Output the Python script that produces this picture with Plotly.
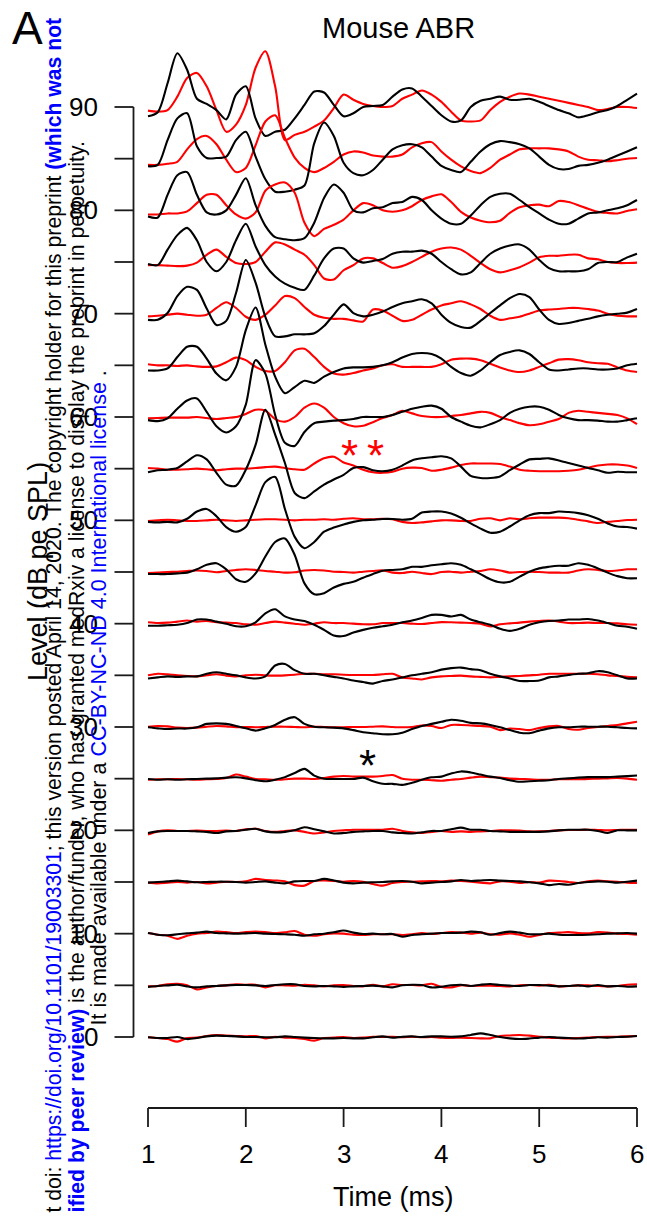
import plotly.graph_objects as go

W, H = 647, 1218

# ---------------- data ----------------
time_ms = [1.0, 1.1, 1.2, 1.3, 1.4, 1.5, 1.6, 1.7, 1.8, 1.9,
           2.0, 2.1, 2.2, 2.3, 2.4, 2.5, 2.6, 2.7, 2.8, 2.9,
           3.0, 3.1, 3.2, 3.3, 3.4, 3.5, 3.6, 3.7, 3.8, 3.9,
           4.0, 4.1, 4.2, 4.3, 4.4, 4.5, 4.6, 4.7, 4.8, 4.9,
           5.0, 5.1, 5.2, 5.3, 5.4, 5.5, 5.6, 5.7, 5.8, 5.9, 6.0]

levels = [90, 85, 80, 75, 70, 65, 60, 55, 50, 45, 40, 35, 30, 25, 20, 15, 10, 5, 0]
ytick_vals = [0, 5, 10, 15, 20, 25, 30, 35, 40, 45, 50, 55, 60, 65, 70, 75, 80, 85, 90]
ytick_labels = {0: "0", 10: "10", 20: "20", 30: "30", 40: "40", 50: "50", 60: "60", 70: "70", 80: "80", 90: "90"}
xtick_vals = [1, 2, 3, 4, 5, 6]

# waveform deflections (plot units, stacked on each level)
b90 = [-0.9, -0.5, 2.3, 5.2, 3.6, 0.8, 0.3, -0.3, -1.2, 1.2,
       2.0, -1.1, -2.8, -2.4, -2.2, -1.1, 0.2, 1.5, 1.4, 0.2,
       -0.9, -0.6, 0.0, 0.1, 0.2, 1.0, 1.7, 1.8, 1.0, 0.1,
       -0.8, -1.4, -1.3, 0.0, 0.6, 0.8, 1.0, 0.7, 0.7, 0.8,
       0.5, 0.1, -0.3, -0.6, -1.0, -0.8, -0.5, -0.3, 0.1, 0.7, 1.3]
r90 = [-0.35, -0.45, -0.3, 1.0, 2.8, 3.3, 2.0, -0.3, -2.4, -1.7,
       0.2, 3.8, 5.4, 2.0, -3.2, -2.7, -2.4, -1.9, -1.3, -0.1,
       1.2, 0.7, 0.3, 0.1, 0.0, 0.1, 0.8, 1.2, 1.6, 1.2,
       0.5, -0.45, -1.3, -1.4, -1.3, -0.3, 0.5, 1.0, 1.3, 1.2,
       1.0, 0.8, 0.6, 0.4, 0.2, 0.0, -0.3, -0.2, 0.0, 0.0, -0.1]
b85 = [-0.74, -0.6, 1.8, 3.9, 4.4, 1.2, 0.06, 0.06, 0.2, 1.8,
       2.6, 0.2, -2.0, -3.2, -3.2, -3.0, -2.6, 1.5, 3.5, 2.2,
       -0.4, -1.4, -1.6, -1.1, -0.1, 0.9, 1.3, 1.4, 1.1, 0.2,
       -0.7, -1.1, -1.3, -0.3, 0.7, 1.4, 1.7, 1.6, 1.4, 1.0,
       0.2, -0.6, -1.0, -1.0, -0.7, -0.6, -0.4, -0.1, 0.3, 0.7, 1.1]
r85 = [-0.6, -0.6, -0.5, -0.3, 0.9, 1.9, 2.2, 1.4, -0.1, -1.3,
       -0.9, 1.3, 3.6, 4.2, 2.0, 0.1, -0.9, -1.3, -0.9, -0.3,
       0.4, 0.7, 0.6, 0.3, 0.2, 0.2, 0.4, 1.1, 1.5, 1.6,
       0.7, -0.1, -0.75, -1.2, -1.4, -0.9, -0.1, 0.4, 0.9, 1.0,
       1.0, 1.0, 0.9, 0.7, 0.2, -0.1, -0.15, -0.25, -0.15, 0.0, 0.06]
b80 = [-0.6, -0.7, 1.5, 3.4, 3.7, 1.5, -0.2, -0.4, 0.0, 1.5,
       3.1, 0.5, -1.5, -2.6, -2.8, -2.9, -2.7, -1.2, 1.2, 2.5,
       1.7, 0.0, -0.2, 0.2, 0.3, 0.7, 0.8, 1.3, 1.0, 0.0,
       -0.8, -1.3, -1.3, -0.5, 0.5, 1.3, 1.6, 1.6, 1.0, 0.3,
       -0.3, -0.9, -1.3, -1.3, -0.8, -0.3, -0.2, 0.0, 0.2, 0.5, 1.0]
r80 = [-0.4, -0.4, -0.3, -0.3, -0.1, 0.7, 1.5, 1.5, 0.5, -0.4,
       -0.8, -0.2, 1.9, 2.5, 2.7, 1.7, -1.2, -2.5, -1.8, -1.4,
       -0.9, 0.0, 0.7, 0.5, 0.0, -0.13, 0.0, 0.4, 1.0, 1.35,
       1.55, 0.8, -0.15, -0.7, -1.0, -1.15, -1.0, -0.25, 0.3, 0.5,
       0.55, 0.4, 0.9, 0.8, 0.5, 0.15, -0.15, -0.25, -0.3, -0.06, 0.1]
b75 = [-0.2, -0.3, 1.2, 2.6, 3.3, 2.1, 0.0, -0.9, 0.0, 2.1,
       3.7, 1.5, -0.3, -1.4, -2.1, -2.5, -2.7, -1.3, 0.35, 1.3,
       1.3, 0.35, -0.06, 0.1, 0.3, 0.8, 1.0, 1.0, 1.1, 0.8,
       0.0, -0.7, -1.2, -1.0, -0.1, 0.8, 1.3, 1.6, 1.7, 1.2,
       0.2, -0.6, -0.9, -0.9, -0.9, -0.7, -0.1, 0.0, 0.0, 0.45, 0.8]
r75 = [-0.3, -0.3, -0.35, -0.4, -0.35, -0.06, 0.7, 1.2, 0.5, -0.1,
       -0.2, 0.0, 1.0, 1.9, 1.7, 1.2, 0.7, -0.3, -1.6, -1.7,
       -0.8, -0.3, 0.35, 0.35, -0.1, -0.55, -0.4, 0.0, 0.5, 1.0,
       1.3, 1.4, 1.2, 0.6, -0.1, -0.7, -1.0, -0.8, -0.5, -0.06,
       0.45, 0.6, 0.6, 0.7, 0.7, 0.35, 0.26, 0.0, -0.1, -0.1, -0.06]
b70 = [-0.6, -0.6, 0.06, 1.7, 2.6, 2.3, 0.5, -1.1, -0.7, 2.0,
       5.2, 3.0, -0.3, -2.2, -2.2, -2.0, -2.0, -1.9, -1.2, -0.1,
       0.9, 0.06, -0.26, -0.1, 0.2, 0.65, 1.0, 1.2, 1.4, 1.0,
       -0.1, -0.9, -1.3, -1.35, -0.7, 0.06, 0.8, 1.5, 1.9, 1.6,
       0.4, -0.6, -1.0, -0.9, -0.7, -0.5, -0.26, -0.1, 0.0, 0.1, 0.45]
r70 = [-0.26, -0.2, -0.1, 0.0, -0.1, -0.2, -0.1, 0.55, 1.1, 0.55,
       -0.3, -0.6, -0.1, 0.8, 1.7, 1.5, 0.65, -0.1, -0.4, -0.5,
       -0.5, -0.65, -0.75, 0.4, 0.3, -0.2, -0.7, -0.6, -0.1, 0.4,
       0.8, 1.0, 1.2, 0.9, 0.45, -0.2, -0.6, -0.45, -0.3, 0.0,
       0.3, 0.4, 0.45, 0.55, 0.55, 0.45, 0.3, 0.0, -0.2, -0.26, -0.26]
b65 = [-0.5, -0.5, -0.3, 0.8, 1.8, 1.8, 0.65, -0.8, -1.45, -0.15,
       3.4, 5.6, 2.0, -1.1, -2.7, -2.1, -1.5, -1.7, -1.1, -0.65,
       -0.3, -0.2, -0.2, -0.15, 0.0, 0.3, 0.75, 1.1, 1.2, 1.1,
       0.65, -0.15, -0.75, -1.0, -0.5, 0.3, 1.0, 1.3, 1.45, 1.1,
       0.3, -0.4, -0.5, -0.4, -0.3, -0.3, -0.4, -0.4, -0.3, 0.0, 0.15]
r65 = [0.1, 0.0, 0.0, -0.06, 0.0, -0.1, -0.15, -0.1, 0.3, 0.75,
       0.5, -0.15, -0.55, -0.55, 0.3, 1.45, 1.6, 0.8, -0.15, -0.8,
       -0.9, -0.75, -0.5, -0.3, 0.0, 0.1, -0.15, -0.15, -0.15, -0.15,
       0.1, 0.55, 0.65, 0.65, 0.5, 0.15, -0.2, -0.5, -0.65, -0.5,
       -0.15, 0.2, 0.55, 0.6, 0.5, 0.3, 0.2, 0.15, -0.2, -0.5, -0.65]
b60 = [-0.3, -0.4, -0.13, 0.8, 1.6, 1.8, 0.5, -0.9, -1.5, -0.9,
       1.2, 5.5, 4.2, 0.2, -2.5, -2.8, -1.45, -0.6, -0.45, -0.35,
       -0.3, -0.2, 0.0, 0.0, 0.0, 0.2, 0.5, 0.8, 1.0, 1.1,
       0.8, 0.0, -0.45, -0.85, -1.0, -0.7, -0.3, 0.4, 0.8, 1.0,
       1.0, 0.7, 0.2, -0.13, -0.3, -0.3, -0.35, -0.45, -0.45, -0.3, -0.13]
r60 = [-0.13, -0.1, -0.06, -0.06, -0.06, 0.0, -0.1, -0.2, -0.1, 0.0,
       0.3, 0.7, 0.6, -0.2, -0.45, 0.0, 0.9, 1.3, 0.9, 0.0,
       -0.6, -0.9, -0.85, -0.5, -0.1, 0.2, 0.6, 0.35, 0.1, 0.0,
       0.0, 0.1, 0.2, 0.35, 0.5, 0.4, 0.0, -0.3, -0.6, -0.8,
       -0.7, -0.45, -0.2, 0.4, 0.6, 0.5, 0.4, 0.3, 0.2, -0.13, -0.7]
b55 = [-0.35, -0.15, -0.1, 0.06, 0.7, 1.3, 0.9, -0.4, -1.55, -1.65,
       -0.1, 2.3, 5.7, 3.3, 0.55, -2.35, -2.85, -2.2, -1.55, -1.05,
       -0.6, 0.06, 0.15, -0.15, -0.25, -0.1, 0.3, 0.8, 1.0, 1.1,
       1.2, 1.0, 0.2, -0.7, -0.9, -0.9, -0.75, -0.15, 0.4, 0.9,
       0.95, 1.0, 0.8, 0.55, 0.3, 0.06, -0.15, -0.4, -0.3, -0.35, -0.35]
r55 = [0.06, 0.0, -0.1, -0.1, -0.06, 0.0, -0.06, -0.15, -0.06, 0.0,
       0.0, 0.06, 0.15, 0.2, 0.06, -0.06, -0.1, 0.5, 1.0, 1.15,
       0.6, 0.3, -0.1, -0.35, -0.4, -0.3, 0.0, 0.1, 0.06, -0.2,
       -0.1, 0.1, 0.35, 0.5, 0.5, 0.5, 0.45, 0.2, -0.1, -0.2,
       -0.25, -0.25, -0.25, -0.2, -0.1, 0.1, 0.3, 0.4, 0.4, 0.3, 0.06]
b50 = [-0.15, -0.2, -0.15, -0.2, 0.15, 0.85, 1.1, 0.4, -0.65, -1.1,
       -0.65, 1.45, 3.7, 4.2, 1.1, -1.6, -2.7, -2.1, -1.1, -0.7,
       -0.4, -0.15, 0.0, 0.06, 0.13, 0.13, 0.06, 0.15, 0.75, 0.85,
       0.85, 0.65, 0.25, -0.3, -0.8, -1.2, -1.1, -0.6, 0.0, 0.5,
       0.7, 0.7, 0.85, 0.8, 0.7, 0.5, 0.15, -0.3, -0.6, -0.65, -0.8]
r50 = [-0.06, 0.0, 0.06, 0.0, -0.06, -0.06, 0.0, 0.06, 0.0, -0.06,
       0.0, 0.06, 0.1, 0.1, 0.06, 0.0, 0.06, 0.06, 0.1, 0.06,
       0.15, 0.2, 0.1, 0.1, 0.15, 0.1, -0.15, -0.26, -0.2, -0.1,
       0.0, 0.0, -0.06, -0.06, 0.15, 0.2, 0.0, 0.2, 0.1, 0.2,
       0.26, 0.26, 0.26, 0.2, 0.06, -0.1, -0.26, -0.15, -0.06, 0.03, 0.06]
b45 = [-0.2, -0.2, -0.2, -0.13, -0.06, 0.26, 0.7, 0.85, 0.26, -0.7,
       -0.95, -0.13, 1.5, 2.9, 3.25, 1.65, -1.1, -2.15, -2.05, -1.5,
       -1.15, -0.95, -0.55, -0.2, 0.13, 0.2, 0.26, 0.5, 0.5, 0.65,
       0.75, 0.85, 0.7, 0.26, -0.2, -0.7, -1.0, -0.95, -0.45, 0.03,
       0.35, 0.5, 0.6, 0.6, 0.85, 0.7, 0.35, -0.06, -0.4, -0.6, -0.6]
r45 = [-0.1, -0.06, 0.0, 0.03, 0.1, 0.15, 0.1, -0.03, 0.1, 0.2,
       0.26, 0.2, 0.1, 0.03, -0.06, -0.03, 0.15, 0.2, 0.15, 0.03,
       0.0, -0.06, 0.03, 0.1, 0.15, -0.06, -0.1, 0.03, -0.1, -0.2,
       0.0, 0.03, -0.06, 0.03, 0.1, 0.26, 0.15, -0.06, 0.0, 0.03,
       0.0, -0.06, -0.06, -0.06, 0.15, 0.26, 0.2, 0.1, 0.15, 0.26, 0.26]
b40 = [-0.2, -0.2, -0.15, -0.1, 0.06, 0.4, 0.4, 0.2, 0.0, -0.25,
       -0.25, 0.13, 1.0, 1.4, 0.7, 0.4, 0.26, -0.1, -0.6, -1.15,
       -1.2, -0.85, -0.6, -0.4, -0.25, -0.1, 0.13, 0.3, 0.55, 0.85,
       0.85, 0.7, 0.85, 0.4, 0.13, -0.1, -0.5, -0.7, -0.5, -0.1,
       0.13, 0.26, 0.3, 0.4, 0.4, 0.45, 0.3, 0.06, -0.2, -0.3, -0.5]
r40 = [0.13, 0.06, 0.1, 0.2, 0.3, 0.2, 0.26, 0.15, 0.1, 0.06,
       -0.06, -0.1, 0.06, 0.2, 0.1, 0.0, -0.1, 0.0, 0.13, 0.06,
       0.06, 0.0, -0.06, -0.06, 0.06, 0.06, 0.06, 0.0, -0.03, 0.06,
       0.15, 0.13, 0.1, 0.06, 0.0, -0.26, -0.06, 0.03, 0.1, 0.2,
       0.26, 0.3, 0.2, 0.06, 0.06, 0.1, 0.06, 0.06, 0.03, -0.06, -0.1]
b35 = [-0.3, -0.2, -0.1, -0.15, -0.1, -0.1, 0.15, 0.3, 0.15, 0.0,
       -0.2, -0.3, -0.1, 0.95, 1.1, 0.5, 0.15, 0.15, 0.0, -0.15,
       -0.3, -0.5, -0.65, -0.8, -0.55, -0.4, -0.2, 0.0, 0.15, 0.3,
       0.55, 0.7, 0.75, 0.6, 0.5, 0.15, -0.1, -0.3, -0.55, -0.55,
       -0.5, -0.2, -0.1, 0.03, 0.15, 0.2, 0.4, 0.3, 0.0, -0.3, -0.3]
r35 = [0.0, 0.15, 0.1, 0.0, -0.06, -0.1, 0.0, 0.1, -0.03, -0.1,
       0.0, 0.06, 0.0, -0.03, 0.0, 0.06, 0.15, 0.15, 0.1, 0.1,
       0.06, 0.03, 0.03, 0.03, 0.1, 0.15, -0.2, -0.3, -0.4, -0.2,
       -0.1, -0.06, -0.03, -0.1, -0.15, -0.2, -0.15, -0.1, -0.06, 0.0,
       0.06, 0.15, 0.15, 0.15, 0.15, 0.15, 0.1, 0.0, -0.06, -0.15, -0.2]
b30 = [-0.03, -0.13, -0.2, -0.15, -0.15, -0.03, 0.3, 0.35, 0.3, 0.1,
       -0.13, -0.35, -0.13, 0.2, 0.7, 0.95, 0.3, 0.03, -0.03, -0.06,
       -0.13, -0.3, -0.5, -0.6, -0.7, -0.7, -0.55, -0.2, 0.1, 0.3,
       0.5, 0.7, 0.6, 0.4, 0.35, 0.2, -0.03, -0.3, -0.55, -0.6,
       -0.35, -0.13, -0.03, -0.03, 0.03, 0.03, 0.03, 0.03, -0.03, -0.1, -0.13]
r30 = [0.03, 0.1, 0.06, -0.06, -0.1, -0.06, 0.03, 0.1, 0.06, -0.03,
       0.0, -0.03, 0.0, 0.03, 0.03, 0.0, -0.03, 0.03, 0.0, -0.03,
       -0.03, 0.0, 0.0, 0.03, 0.06, 0.0, -0.03, 0.0, 0.15, 0.1,
       -0.1, 0.2, 0.2, 0.15, 0.1, 0.03, -0.3, -0.15, -0.2, -0.3,
       -0.1, 0.06, 0.1, -0.2, -0.26, -0.1, 0.0, 0.1, 0.2, 0.35, 0.5]
b25 = [-0.03, -0.1, -0.06, -0.1, -0.06, -0.03, 0.0, 0.03, 0.1, 0.13,
       0.03, -0.15, -0.25, -0.1, 0.15, 0.55, 0.95, 0.3, 0.0, -0.03,
       -0.03, -0.03, 0.1, -0.25, -0.5, -0.5, -0.6, -0.4, -0.1, 0.13,
       0.2, 0.5, 0.7, 0.6, 0.4, 0.2, 0.06, -0.15, -0.3, -0.25,
       -0.2, -0.15, -0.03, 0.03, 0.1, 0.15, 0.15, 0.15, 0.2, 0.25, 0.3]
r25 = [-0.1, -0.06, -0.06, -0.03, -0.06, -0.1, -0.06, -0.03, 0.06, 0.4,
       0.2, -0.03, -0.06, -0.1, -0.06, 0.0, 0.0, -0.03, 0.06, 0.2,
       0.26, 0.2, 0.2, 0.2, 0.26, 0.35, 0.0, -0.1, -0.1, -0.15,
       -0.2, -0.1, -0.03, 0.1, 0.2, 0.15, 0.1, 0.0, -0.03, -0.06,
       -0.1, -0.1, -0.06, -0.06, -0.06, -0.03, 0.0, 0.03, 0.06, 0.0, -0.1]
b20 = [-0.26, -0.1, -0.06, -0.06, -0.06, -0.1, -0.15, -0.26, -0.1, -0.06,
       0.06, 0.15, -0.1, -0.2, -0.15, 0.0, 0.3, 0.1, -0.1, -0.3,
       -0.26, -0.15, -0.1, -0.06, -0.06, -0.2, -0.26, -0.3, -0.2, -0.06,
       -0.06, 0.1, 0.26, 0.06, 0.06, -0.06, -0.1, -0.15, -0.15, -0.15,
       -0.15, -0.1, 0.0, 0.06, 0.06, 0.06, -0.06, -0.26, 0.0, 0.0, 0.0]
r20 = [-0.4, -0.1, 0.0, -0.06, -0.06, -0.03, -0.06, -0.06, -0.03, -0.06,
       0.1, 0.15, -0.06, -0.15, -0.06, 0.0, -0.15, -0.3, -0.2, -0.06,
       0.0, 0.06, 0.06, 0.06, 0.06, 0.15, -0.06, -0.2, -0.26, -0.15,
       -0.06, -0.15, -0.1, -0.15, -0.1, -0.06, 0.0, 0.0, -0.03, -0.1,
       -0.1, -0.06, 0.0, 0.03, 0.03, 0.06, 0.03, 0.0, 0.03, 0.06, 0.06]
b15 = [-0.06, 0.0, 0.06, 0.13, 0.06, -0.03, 0.0, 0.03, 0.03, 0.0,
       -0.06, 0.0, 0.06, -0.06, -0.13, 0.06, 0.1, 0.1, 0.3, 0.15,
       -0.06, -0.13, -0.06, -0.03, 0.0, 0.06, 0.1, 0.03, -0.13, -0.06,
       0.0, 0.06, 0.2, 0.1, 0.15, 0.2, 0.13, 0.1, 0.06, -0.03,
       -0.13, -0.3, -0.2, -0.26, -0.1, 0.0, 0.06, 0.03, -0.06, 0.03, 0.13]
r15 = [-0.06, -0.13, -0.06, 0.0, -0.06, 0.0, -0.13, -0.06, 0.03, 0.0,
       0.06, 0.3, 0.2, 0.15, 0.06, -0.3, -0.35, 0.1, 0.15, 0.1,
       0.03, 0.1, 0.03, -0.2, -0.35, -0.1, 0.0, 0.03, 0.06, 0.1,
       0.06, 0.13, 0.1, 0.03, -0.06, -0.13, 0.06, 0.03, -0.1, 0.0,
       -0.06, 0.13, 0.1, 0.0, -0.1, 0.06, 0.13, 0.06, 0.03, -0.06, -0.1]
b10 = [0.06, -0.1, -0.15, -0.06, 0.03, 0.1, 0.2, 0.06, 0.03, 0.0,
       0.03, 0.06, 0.0, -0.03, -0.06, -0.1, -0.2, -0.06, 0.0, 0.13,
       0.3, 0.1, -0.03, 0.0, -0.06, -0.03, -0.3, -0.13, -0.06, 0.0,
       0.06, 0.06, 0.1, 0.2, 0.13, -0.1, 0.06, 0.2, 0.1, -0.06,
       -0.06, 0.0, -0.1, -0.13, -0.13, -0.1, -0.06, 0.0, 0.03, 0.06, 0.0]
r10 = [0.06, -0.1, -0.2, -0.5, -0.2, 0.0, 0.06, 0.2, 0.15, 0.06,
       0.15, 0.2, 0.15, 0.06, 0.13, 0.26, -0.1, -0.2, -0.06, 0.03,
       0.0, -0.1, -0.13, -0.06, -0.06, -0.06, -0.13, -0.06, 0.06, -0.03,
       0.06, 0.15, 0.1, 0.0, 0.1, -0.06, -0.1, 0.03, -0.1, -0.3,
       -0.13, 0.06, 0.1, 0.15, 0.06, 0.03, 0.15, 0.1, 0.0, -0.03, -0.1]
b5 = [-0.15, -0.06, 0.0, 0.06, -0.1, -0.2, -0.1, -0.06, 0.0, 0.03,
      0.03, 0.0, -0.06, 0.03, 0.1, 0.1, -0.06, -0.1, -0.06, -0.1,
      -0.15, -0.1, -0.06, -0.03, -0.1, -0.2, 0.0, 0.06, 0.03, -0.2,
      -0.13, 0.0, 0.06, -0.06, 0.06, 0.13, 0.03, -0.03, -0.06, 0.03,
      0.03, -0.03, -0.1, -0.06, 0.0, -0.1, 0.03, -0.1, -0.06, -0.13, -0.1]
r5 = [-0.1, -0.06, 0.1, 0.15, 0.0, -0.4, -0.2, -0.06, 0.0, 0.1,
      0.06, 0.06, -0.2, 0.0, 0.0, -0.03, 0.06, 0.0, -0.1, 0.0,
      0.03, -0.06, -0.1, 0.06, -0.1, 0.1, 0.03, 0.03, 0.0, 0.15,
      -0.15, -0.2, 0.0, -0.06, -0.03, -0.03, -0.06, -0.1, 0.0, 0.03,
      -0.03, 0.06, -0.1, -0.06, 0.0, 0.0, -0.06, -0.1, -0.06, 0.06, 0.1]
b0 = [-0.03, -0.1, -0.1, 0.0, -0.2, -0.1, 0.06, 0.13, 0.1, 0.06,
      0.0, 0.0, -0.03, -0.03, 0.06, 0.0, -0.06, -0.1, -0.13, -0.13,
      -0.1, -0.13, -0.13, -0.03, 0.06, -0.06, 0.03, 0.06, 0.0, 0.06,
      0.06, 0.03, 0.06, 0.2, 0.35, 0.2, 0.0, -0.13, -0.2, -0.15,
      -0.06, 0.0, -0.06, -0.1, -0.15, -0.1, -0.03, -0.06, 0.0, 0.03, 0.1]
r0 = [-0.03, -0.1, -0.2, -0.45, -0.1, -0.06, 0.1, 0.2, 0.13, 0.1,
      0.06, 0.1, -0.13, 0.03, -0.06, -0.1, -0.2, -0.35, -0.1, -0.06,
      0.0, -0.1, -0.06, 0.03, 0.0, 0.03, -0.03, 0.03, -0.03, 0.0,
      -0.06, -0.1, -0.06, -0.1, -0.13, -0.13, 0.1, 0.15, 0.2, 0.13,
      0.03, -0.06, -0.1, -0.13, -0.1, -0.06, 0.0, 0.03, 0.03, 0.06, 0.1]

black_series = [b90, b85, b80, b75, b70, b65, b60, b55, b50, b45, b40, b35, b30, b25, b20, b15, b10, b5, b0]
red_series = [r90, r85, r80, r75, r70, r65, r60, r55, r50, r45, r40, r35, r30, r25, r20, r15, r10, r5, r0]

# significance markers: (time ms, level, colour)
star_marks = [(3.06, 57.0, "#ff0000"), (3.33, 57.0, "#ff0000"), (3.24, 27.0, "#000000")]

# ---------------- geometry (pixels -> data) ----------------
T0_PX, MS_PX = 148.0, 97.8        # x pixel of 1 ms, pixels per ms
L0_PX, DB_PX = 1037.0, 930.0 / 90  # y pixel of level 0, pixels per dB

def xd(px):
    return 1 + (px - T0_PX) / MS_PX

def yd(py):
    return (L0_PX - py) / DB_PX

FONT = "Liberation Sans, Arial, Helvetica, sans-serif"
AX = "#1a1a1a"

fig = go.Figure()

for lev, bk, rd in zip(levels, black_series, red_series):
    fig.add_trace(go.Scatter(x=time_ms, y=[lev + v for v in rd], mode="lines",
                             line=dict(color="#ff0000", width=2.1, shape="spline", smoothing=0.8),
                             hoverinfo="skip", showlegend=False))
    fig.add_trace(go.Scatter(x=time_ms, y=[lev + v for v in bk], mode="lines",
                             line=dict(color="#000000", width=2.1, shape="spline", smoothing=0.8),
                             hoverinfo="skip", showlegend=False))

shapes = []
# y axis
shapes.append(dict(type="line", xref="x", yref="y", x0=xd(133.5), x1=xd(133.5),
                   y0=min(ytick_vals), y1=max(ytick_vals), line=dict(color=AX, width=1.8)))
for v in ytick_vals:
    shapes.append(dict(type="line", xref="x", yref="y", x0=xd(114.5), x1=xd(133.5),
                       y0=v, y1=v, line=dict(color=AX, width=1.8)))
# x axis
shapes.append(dict(type="line", xref="x", yref="y", x0=min(xtick_vals), x1=max(xtick_vals),
                   y0=yd(1108), y1=yd(1108), line=dict(color=AX, width=1.8)))
for v in xtick_vals:
    shapes.append(dict(type="line", xref="x", yref="y", x0=v, x1=v,
                       y0=yd(1108), y1=yd(1127), line=dict(color=AX, width=1.8)))

ann = []
for v, lab in ytick_labels.items():
    ann.append(dict(x=xd(100), y=v, xref="x", yref="y", text=lab, showarrow=False,
                    xanchor="right", yanchor="middle", font=dict(family=FONT, size=26, color="#000")))
for v in xtick_vals:
    ann.append(dict(x=v, y=yd(1154), xref="x", yref="y", text=str(v), showarrow=False,
                    xanchor="center", yanchor="middle", font=dict(family=FONT, size=26, color="#000")))
ann.append(dict(x=3.5, y=yd(1197), xref="x", yref="y", text="Time (ms)", showarrow=False,
                xanchor="center", yanchor="middle", font=dict(family=FONT, size=27, color="#000")))
ann.append(dict(x=xd(38), y=45, xref="x", yref="y", text="Level (dB pe SPL)", showarrow=False,
                textangle=-90, xanchor="center", yanchor="middle",
                font=dict(family=FONT, size=27, color="#000")))
ann.append(dict(x=xd(398), y=yd(28), xref="x", yref="y", text="Mouse ABR", showarrow=False,
                xanchor="center", yanchor="middle", font=dict(family=FONT, size=29, color="#000")))
ann.append(dict(x=xd(27), y=yd(28), xref="x", yref="y", text="A", showarrow=False,
                xanchor="center", yanchor="middle", font=dict(family=FONT, size=46, color="#000")))

for t, lev, col in star_marks:
    ann.append(dict(x=t, y=lev - 0.72, xref="x", yref="y", text="*", showarrow=False,
                    xanchor="center", yanchor="middle", font=dict(family=FONT, size=44, color=col)))

# medRxiv watermark (rotated text, visible part as in the source page)
BL = "#0000ff"
WM = 21.2
wm1 = ("t doi: <span style='color:%s'>https://doi.org/10.1101/19003301</span>; "
       "this version posted April 14, 2020. The copyright holder for this preprint "
       "<b><span style='color:%s'>(which was not</span></b>" % (BL, BL))
wm2 = ("<b><span style='color:%s'>ified by peer review)</span></b> is the author/funder, "
       "who has granted medRxiv a license to display the preprint in perpetuity." % BL)
wm3 = ("It is made available under a <span style='color:%s'>CC-BY-NC-ND 4.0 International license</span> ." % BL)
ann.append(dict(x=xd(53), y=yd(1215), xref="x", yref="y", text=wm1, showarrow=False, textangle=-90,
                xanchor="center", yanchor="bottom", font=dict(family=FONT, size=WM, color="#000")))
ann.append(dict(x=xd(76), y=yd(1215), xref="x", yref="y", text=wm2, showarrow=False, textangle=-90,
                xanchor="center", yanchor="bottom", font=dict(family=FONT, size=WM, color="#000")))
ann.append(dict(x=xd(98), y=yd(1028), xref="x", yref="y", text=wm3, showarrow=False, textangle=-90,
                xanchor="center", yanchor="bottom", font=dict(family=FONT, size=21.5, color="#000")))

fig.update_layout(
    width=W, height=H, autosize=False,
    margin=dict(l=0, r=0, t=0, b=0, pad=0),
    paper_bgcolor="white", plot_bgcolor="white",
    xaxis=dict(range=[xd(0), xd(W)], visible=False, fixedrange=True),
    yaxis=dict(range=[yd(H), yd(0)], visible=False, fixedrange=True),
    shapes=shapes, annotations=ann, showlegend=False,
)

fig.write_html("out.html", config={"displayModeBar": False},
               post_script="document.body.style.margin='0px';")
